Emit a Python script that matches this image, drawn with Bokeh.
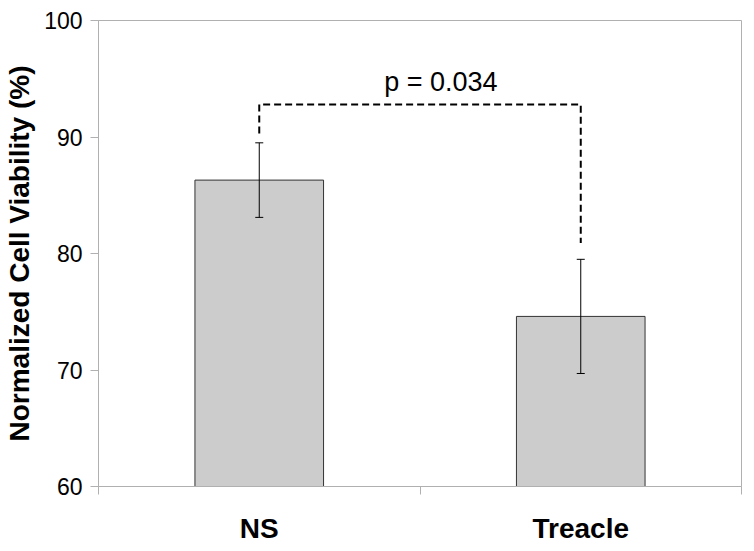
from bokeh.plotting import figure
from bokeh.models import (Range1d, FixedTicker, Whisker, TeeHead, ColumnDataSource, Label)
from bokeh.embed import file_html
from bokeh.resources import INLINE

# ---- data ----
categories = ["NS", "Treacle"]
cat_pos = [0.5, 1.5]
viability = [86.3, 74.6]
err = [3.2, 4.9]
y_ticks = [60, 70, 80, 90, 100]
cat_bounds = [0, 1, 2]

# significance bracket (y levels in data units)
bracket_top = 92.8
bracket_left_end = 90.3
bracket_right_end = 80.9
p_text = "p = 0.034"
p_label_x = 1.065
p_label_y = 94.7

p = figure(width=746, height=546, output_backend="svg", toolbar_location=None,
           x_range=Range1d(0, 2), y_range=Range1d(60, 100),
           min_border_left=98, min_border_top=20, min_border_right=5, min_border_bottom=60)

p.xgrid.visible = False
p.ygrid.visible = False
p.outline_line_color = "#b0b0b0"
p.outline_line_width = 1
p.background_fill_color = "white"
p.border_fill_color = "white"

src = ColumnDataSource(dict(x=cat_pos, top=viability,
                            upper=[v + e for v, e in zip(viability, err)],
                            lower=[v - e for v, e in zip(viability, err)]))

p.vbar(x="x", top="top", bottom=60, width=0.4, source=src,
       fill_color="#cccccc", line_color="#333333", line_width=1)

w = Whisker(base="x", upper="upper", lower="lower", source=src, level="overlay",
            line_color="black", line_width=1,
            upper_head=TeeHead(size=8, line_color="black", line_width=1),
            lower_head=TeeHead(size=8, line_color="black", line_width=1))
p.add_layout(w)

bx = [cat_pos[0], cat_pos[0], cat_pos[1], cat_pos[1]]
by = [bracket_left_end, bracket_top, bracket_top, bracket_right_end]
p.line(bx, by, line_color="black", line_width=2, line_dash="7 4")

p.add_layout(Label(x=p_label_x, y=p_label_y, text=p_text, text_align="center",
                   text_baseline="middle", text_font="Liberation Sans",
                   text_font_size="27px", text_color="black"))

# y axis
ya = p.yaxis[0]
ya.ticker = FixedTicker(ticks=y_ticks)
ya.axis_label = "Normalized Cell Viability (%)"
ya.axis_label_text_font = "Liberation Sans"
ya.axis_label_text_font_style = "bold"
ya.axis_label_text_font_size = "28px"
ya.axis_label_text_color = "black"
ya.axis_label_standoff = 6
ya.major_label_text_font = "Liberation Sans"
ya.major_label_text_font_size = "23px"
ya.major_label_text_color = "black"
ya.major_label_standoff = 8
ya.axis_line_color = "#b0b0b0"
ya.major_tick_line_color = "#b0b0b0"
ya.major_tick_out = 8
ya.major_tick_in = 0
ya.minor_tick_line_color = None

# x axis
xa = p.xaxis[0]
xa.ticker = FixedTicker(ticks=cat_pos, minor_ticks=cat_bounds)
xa.major_label_overrides = {cat_pos[i]: categories[i] for i in range(len(categories))}
xa.major_label_text_font = "Liberation Sans"
xa.major_label_text_font_style = "bold"
xa.major_label_text_font_size = "28px"
xa.major_label_text_color = "black"
xa.major_label_standoff = 18
xa.axis_line_color = "#b0b0b0"
xa.major_tick_line_color = None
xa.major_tick_out = 0
xa.major_tick_in = 0
xa.minor_tick_line_color = "#b0b0b0"
xa.minor_tick_out = 8
xa.minor_tick_in = 0

open("out.html", "w").write(file_html(p, INLINE))
